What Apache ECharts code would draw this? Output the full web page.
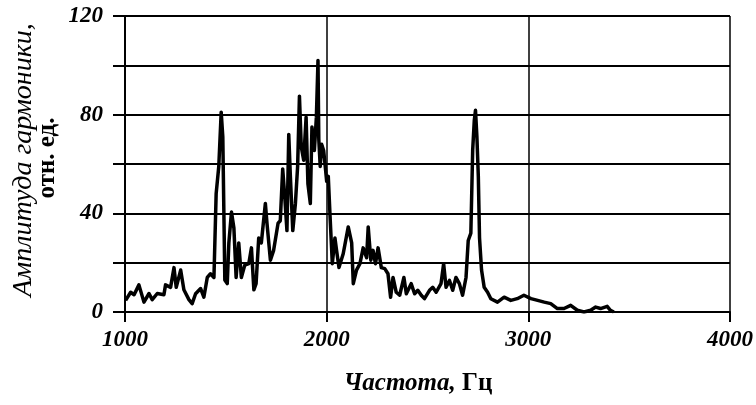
<!DOCTYPE html>
<html>
<head>
<meta charset="utf-8">
<script src="https://cdn.jsdelivr.net/npm/echarts@6/dist/echarts.min.js"></script>
<style>
  html, body { margin: 0; padding: 0; background: #fff; }
  #chart { width: 756px; height: 405px; }
</style>
</head>
<body>
<div id="chart"></div>
<script>
// Harmonic amplitude spectrum: frequency (Hz) and amplitude (rel. units)
const freqHz = [
  1003, 1028, 1045, 1069, 1094, 1119, 1135, 1160, 1193, 1201, 1226, 1243, 1254, 1276, 1292,
  1317, 1333, 1350, 1375, 1391, 1408, 1424, 1441, 1452, 1465, 1477, 1485, 1495, 1507, 1515,
  1528, 1540, 1551, 1564, 1577, 1594, 1614, 1627, 1639, 1650, 1663, 1676, 1696, 1704, 1721,
  1737, 1759, 1770, 1782, 1792, 1803, 1812, 1820, 1832, 1845, 1856, 1865, 1874, 1886, 1898,
  1907, 1919, 1927, 1939, 1949, 1957, 1961, 1968, 1975, 1985, 1993, 2000, 2008, 2017, 2028,
  2041, 2049, 2061, 2082, 2107, 2124, 2132, 2148, 2165, 2181, 2198, 2206, 2219, 2230, 2242,
  2255, 2271, 2288, 2304, 2317, 2329, 2345, 2362, 2383, 2395, 2419, 2436, 2452, 2469, 2485,
  2510, 2526, 2543, 2567, 2580, 2592, 2609, 2625, 2641, 2658, 2674, 2691, 2702, 2715, 2724,
  2732, 2738, 2745, 2752, 2758, 2768, 2781, 2798, 2814, 2847, 2880, 2913, 2945, 2978, 3013,
  3046, 3079, 3111, 3144, 3177, 3210, 3243, 3276, 3309, 3334, 3358, 3391, 3407, 3424
];
const amplitude = [
  4.7, 8, 7, 11, 4, 7.5, 5, 7.5, 7, 11, 10, 18, 10, 17, 9,
  5, 3.4, 7.4, 9.5, 6, 14, 15.5, 14, 48, 59, 81, 71, 13, 11.5, 28,
  40.5, 34, 14, 28, 14, 19, 19.6, 26, 9, 11.5, 30, 28, 44, 36, 21,
  25, 36, 37, 58, 47, 33, 72, 55, 33, 44, 59, 87.5, 67, 61.5, 79,
  52, 44, 75, 65.5, 79, 102, 70, 59, 68, 65.5, 59, 53, 55, 38.5, 19.6,
  30, 25, 18, 23.6, 34.5, 28, 11.5, 17, 19.6, 26, 22, 34.5, 21, 25, 19.6,
  26, 18, 17.6, 15.5, 6, 14, 8, 6.8, 14, 7.4, 11.5, 7.4, 8.8, 6.8, 5.4,
  8.8, 10, 8, 11.5, 19.6, 10, 12.8, 8.8, 14, 11.5, 6.8, 14, 29, 32, 65.5,
  77.7, 81.8, 71, 55, 30, 17, 10, 8, 5.4, 4, 6, 4.7, 5.4, 6.8, 5.4,
  4.7, 4, 3.4, 1.4, 1.4, 2.7, 0.7, 0, 0.7, 2, 1.4, 2.3, 0.7, 0
];

// Axis ranges and labelled ticks
const xTicks = [1000, 2000, 3000, 4000];
const yLabelled = [0, 40, 80, 120];

const serif = '"Liberation Serif", "DejaVu Serif", serif';
const tickFont = {
  fontFamily: serif, fontStyle: 'italic', fontWeight: 'bold', fontSize: 23, color: '#000'
};

const chart = echarts.init(document.getElementById('chart'), null, { renderer: 'canvas' });

chart.setOption({
  animation: false,
  backgroundColor: '#fff',
  grid: { left: 125, right: 25, top: 16, bottom: 93 },
  xAxis: {
    type: 'value',
    min: xTicks[0],
    max: xTicks[xTicks.length - 1],
    interval: 1000,
    axisLine: { show: true, onZero: false, lineStyle: { color: '#000', width: 2 } },
    axisTick: { show: true, length: 10, lineStyle: { color: '#000', width: 2 } },
    axisLabel: Object.assign({ margin: 17, formatter: v => String(v) }, tickFont),
    splitLine: { show: true, lineStyle: { color: '#000', width: 1.5 } }
  },
  yAxis: {
    type: 'value',
    min: 0,
    max: 120,
    interval: 20,
    axisLine: { show: true, lineStyle: { color: '#000', width: 2 } },
    axisTick: { show: true, length: 12, lineStyle: { color: '#000', width: 2 } },
    axisLabel: Object.assign({
      margin: 22,
      formatter: v => (yLabelled.indexOf(v) >= 0 ? String(v) : '')
    }, tickFont),
    splitLine: { show: true, lineStyle: { color: '#000', width: 2 } }
  },
  series: [{
    type: 'line',
    data: freqHz.map((f, i) => [f, amplitude[i]]),
    showSymbol: false,
    lineStyle: { color: '#000', width: 3.5, join: 'round' },
    z: 3
  }],
  graphic: [
    {
      type: 'text',
      x: 418, y: 384,
      style: {
        text: '{a|Частота,}{b| Гц}',
        align: 'center', verticalAlign: 'middle',
        rich: {
          a: { fontFamily: serif, fontStyle: 'italic', fontWeight: 'bold', fontSize: 25, fill: '#000' },
          b: { fontFamily: serif, fontWeight: 'bold', fontSize: 25, fill: '#000' }
        }
      }
    },
    {
      type: 'text',
      x: 24, y: 160,
      rotation: Math.PI / 2,
      style: {
        text: 'Амплитуда гармоники,',
        align: 'center', verticalAlign: 'middle',
        fontFamily: serif, fontStyle: 'italic', fontSize: 28, fill: '#000'
      }
    },
    {
      type: 'text',
      x: 48, y: 158,
      rotation: Math.PI / 2,
      style: {
        text: 'отн. ед.',
        align: 'center', verticalAlign: 'middle',
        fontFamily: serif, fontWeight: 'bold', fontSize: 25, fill: '#000'
      }
    }
  ]
});
</script>
</body>
</html>
